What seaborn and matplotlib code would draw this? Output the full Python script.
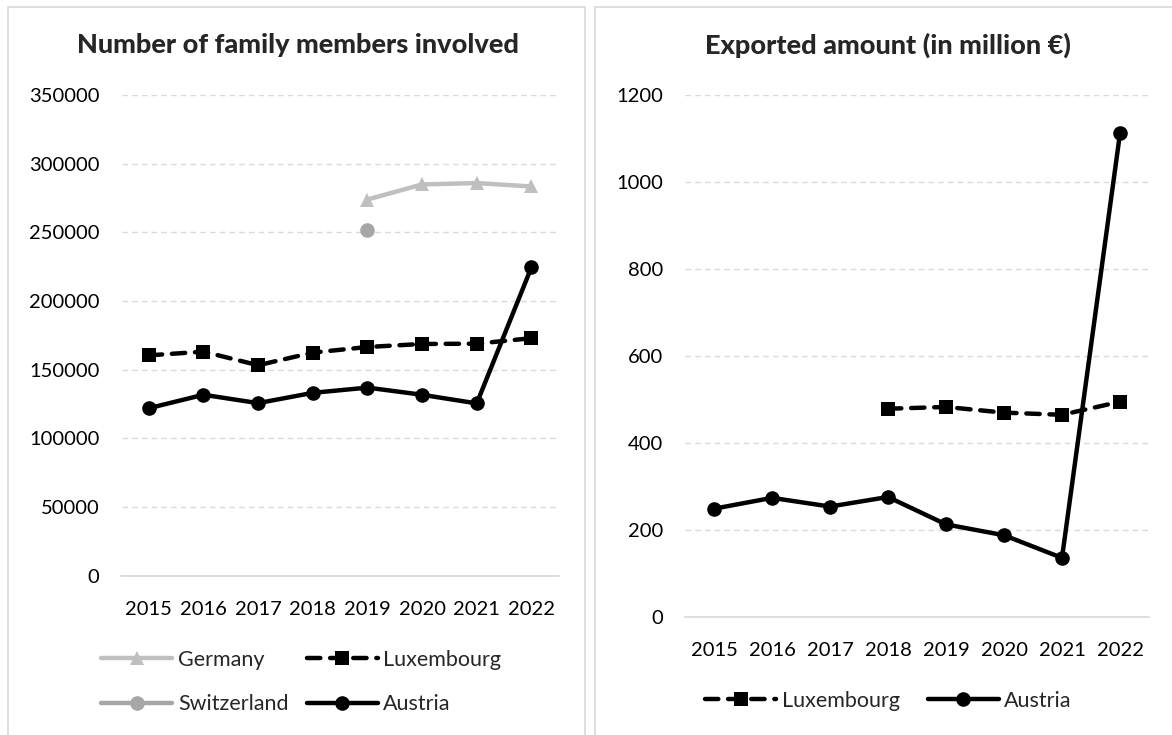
import numpy as np
import pandas as pd
import matplotlib.pyplot as plt
from matplotlib.patches import Rectangle
from matplotlib.lines import Line2D
import seaborn as sns

years = ['2015', '2016', '2017', '2018', '2019', '2020', '2021', '2022']

# family members involved
members_germany = [np.nan, np.nan, np.nan, np.nan, 274000, 285000, 286000, 283500]
members_switzerland = [np.nan, np.nan, np.nan, np.nan, 252000, np.nan, np.nan, np.nan]
members_luxembourg = [160500, 163200, 153300, 162500, 166600, 168800, 169000, 173000]
members_austria = [122000, 131800, 125700, 133200, 137000, 131800, 125500, 224500]

# exported amount (million EUR)
export_luxembourg = [np.nan, np.nan, np.nan, 479, 483, 470, 465, 495]
export_austria = [249, 274, 254, 276, 213, 188, 136, 1112]

sns.set_theme(style='white')
plt.rcParams['font.family'] = ['Lato', 'DejaVu Sans']

W, H = 1172, 735
fig = plt.figure(figsize=(W / 100, H / 100), dpi=100)


def fx(px):
    return px / W


def fy(py):
    return 1 - py / H


# panel borders
for x0, x1 in [(8, 585), (595, 1180)]:
    fig.patches.append(Rectangle((fx(x0), fy(740)), fx(x1 - x0), (740 - 7) / H,
                                 transform=fig.transFigure, fill=False,
                                 edgecolor='#d9d9d9', linewidth=1.2, zorder=0))

ax1 = fig.add_axes([fx(121.5), fy(575.7), fx(437.2), (575.7 - 95.2) / H])
ax2 = fig.add_axes([fx(685), fy(617), fx(464), (617 - 95.2) / H])

pos = np.arange(len(years))
styles = {
    'Germany': dict(color='#bfbfbf', marker='^', linestyle='-'),
    'Switzerland': dict(color='#a6a6a6', marker='o', linestyle='-'),
    'Luxembourg': dict(color='black', marker='s', linestyle=(0, (3.0, 2.2))),
    'Austria': dict(color='black', marker='o', linestyle='-'),
}
LW = 3.2
MS = 10.5


def draw(ax, name, values):
    df = pd.DataFrame({'pos': pos, 'value': values}).dropna()
    st = styles[name]
    sns.lineplot(data=df, x='pos', y='value', ax=ax, color=st['color'],
                 marker=st['marker'], markersize=MS, markeredgewidth=0,
                 linewidth=LW, linestyle=st['linestyle'], dash_capstyle='round',
                 sort=False)


draw(ax1, 'Germany', members_germany)
draw(ax1, 'Switzerland', members_switzerland)
draw(ax1, 'Luxembourg', members_luxembourg)
draw(ax1, 'Austria', members_austria)

draw(ax2, 'Luxembourg', export_luxembourg)
draw(ax2, 'Austria', export_austria)

for ax, top, step in [(ax1, 350000, 50000), (ax2, 1200, 200)]:
    ax.set_xlim(-0.5, len(years) - 0.5)
    ax.set_ylim(0, top)
    ax.set_yticks(np.arange(0, top + 1, step))
    ax.set_xticks(pos)
    ax.set_xticklabels(years)
    ax.set_xlabel('')
    ax.set_ylabel('')
    ax.yaxis.grid(True, color='#d9d9d9', linestyle=(0, (4, 3)), linewidth=1)
    ax.set_axisbelow(True)
    for side in ['top', 'right', 'left']:
        ax.spines[side].set_visible(False)
    ax.spines['bottom'].set_color('#d9d9d9')
    ax.spines['bottom'].set_linewidth(1.2)
    ax.tick_params(axis='both', length=0, labelsize=14.5, labelcolor='black')
    ax.tick_params(axis='y', pad=16)
    ax.tick_params(axis='x', pad=18)
    ax.set_facecolor('none')

fig.text(fx(298), fy(45), 'Number of family members involved', ha='center',
         va='center', fontsize=19.5, fontweight='black')
fig.text(fx(888), fy(45), 'Exported amount (in million €)', ha='center',
         va='center', fontsize=19.5, fontweight='black')


def handle(name):
    st = styles[name]
    return Line2D([], [], color=st['color'], marker=st['marker'], markersize=MS,
                  markeredgewidth=0, linewidth=LW, linestyle=st['linestyle'],
                  dash_capstyle='round')


leg_kw = dict(frameon=False, fontsize=15.5, handlelength=3.3, handletextpad=0.25,
              columnspacing=0.85, labelspacing=1.15)
names1 = ['Germany', 'Switzerland', 'Luxembourg', 'Austria']
fig.legend([handle(n) for n in names1], names1, ncol=2, loc='center left',
           bbox_to_anchor=(fx(82), fy(682)), **leg_kw)
names2 = ['Luxembourg', 'Austria']
leg_kw2 = dict(leg_kw, columnspacing=1.3)
fig.legend([handle(n) for n in names2], names2, ncol=2, loc='center left',
           bbox_to_anchor=(fx(686), fy(701)), **leg_kw2)

fig.savefig('out.png', dpi=100, facecolor='white')
